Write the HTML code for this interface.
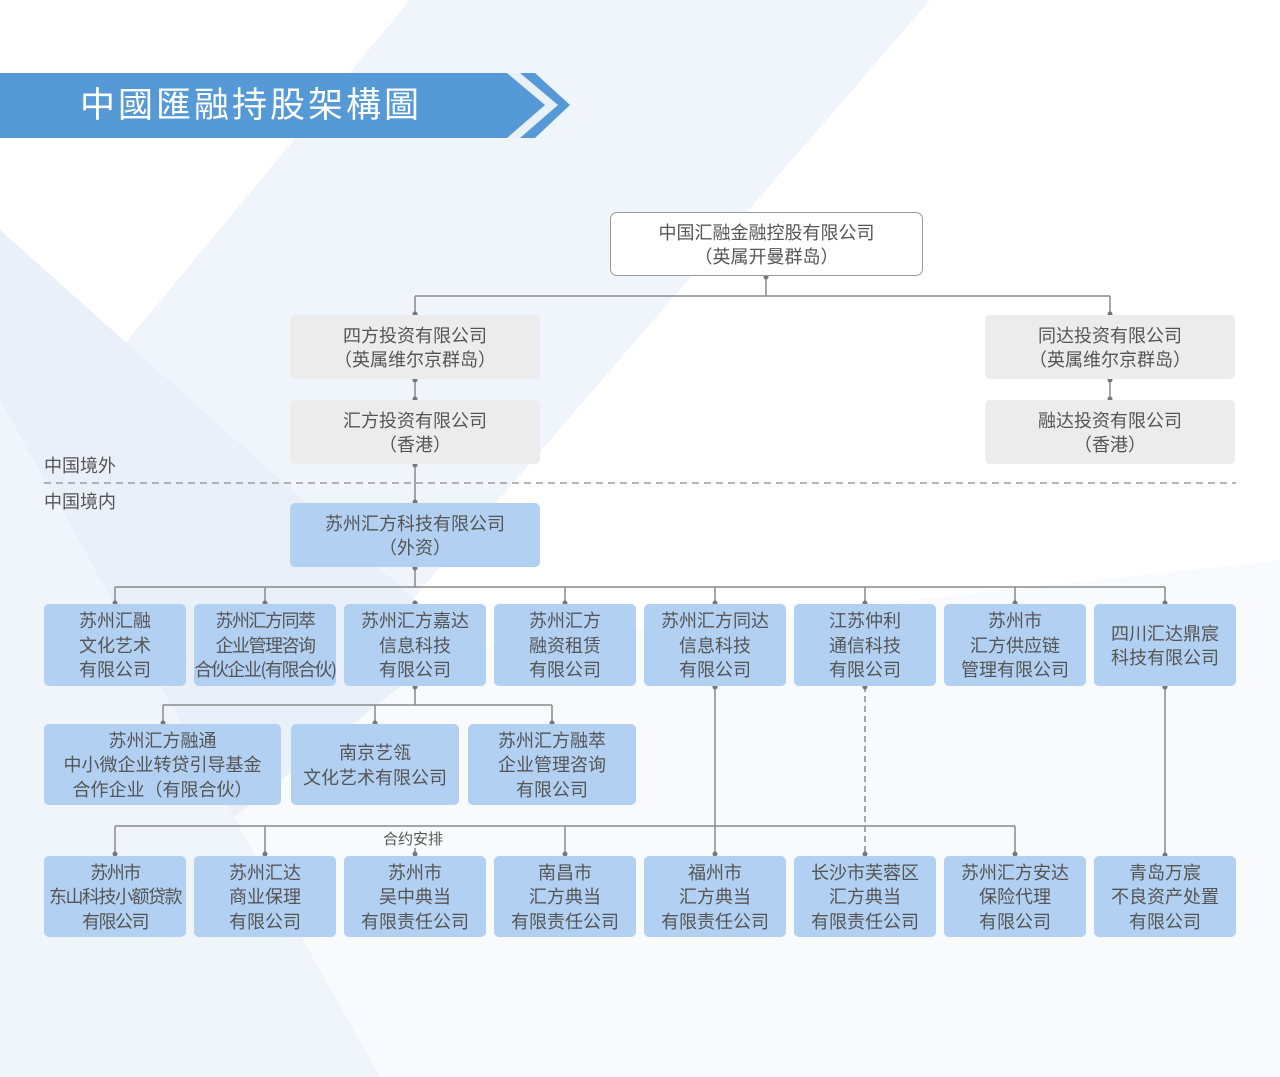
<!DOCTYPE html>
<html><head><meta charset="utf-8"><style>
html,body{margin:0;padding:0}
body{width:1280px;height:1077px;position:relative;overflow:hidden;background:#fff;font-family:"Liberation Sans","Noto Sans CJK SC",sans-serif}
svg.bg{position:absolute;left:0;top:0}
.b{position:absolute;display:flex;align-items:center;justify-content:center;text-align:center;color:#555;font-size:18px;line-height:24.5px;border-radius:5px;box-sizing:border-box;white-space:nowrap;font-family:"Noto Sans CJK SC",sans-serif}
.g{background:#ececec}
.u{background:#b2d0f1}
.lbl{position:absolute;color:#555;font-size:18px;font-family:"Noto Sans CJK SC",sans-serif;line-height:26px}
.title{position:absolute;left:80px;top:84px;color:#fff;font-size:35px;letter-spacing:3px;line-height:44px}
</style></head><body>
<svg class="bg" width="1280" height="1077">
<rect width="1280" height="1077" fill="#fff"/>
<polygon points="0,700 1280,560 1280,1077 0,1077" fill="#f8fafd"/>
<polygon points="410,0 930,0 0,1077 0,494" fill="#f0f4fb"/>
<polygon points="0,230 460,640 0,1000" fill="#e9f0fa"/>
<polygon points="0,400 380,1077 0,1077" fill="#f0f5fc"/>
<polygon points="0,73 535,73 570,105 535,138 0,138" fill="#5599d6"/>
<polygon points="507,73 520,73 558,105 520,138 507,138 545,105" fill="#e9f0fa"/>
<g stroke="#8a8a8a" stroke-width="1.5" fill="none">
<line x1="766" y1="276" x2="766" y2="296"/>
<line x1="415" y1="296" x2="1110" y2="296"/>
<line x1="415" y1="296" x2="415" y2="315"/>
<line x1="1110" y1="296" x2="1110" y2="315"/>
<line x1="415" y1="379" x2="415" y2="400"/>
<line x1="1110" y1="379" x2="1110" y2="400"/>
<line x1="415" y1="464" x2="415" y2="503"/>
<line x1="415" y1="567" x2="415" y2="587"/>
<line x1="115" y1="587" x2="1165" y2="587"/>
<line x1="115" y1="587" x2="115" y2="604"/><line x1="265" y1="587" x2="265" y2="604"/><line x1="565" y1="587" x2="565" y2="604"/><line x1="715" y1="587" x2="715" y2="604"/><line x1="865" y1="587" x2="865" y2="604"/><line x1="1015" y1="587" x2="1015" y2="604"/><line x1="1165" y1="587" x2="1165" y2="604"/>
<line x1="415" y1="686" x2="415" y2="705"/>
<line x1="163" y1="705" x2="552" y2="705"/>
<line x1="163" y1="705" x2="163" y2="724"/><line x1="375" y1="705" x2="375" y2="724"/><line x1="552" y1="705" x2="552" y2="724"/>
<line x1="115" y1="826" x2="1015" y2="826"/>
<line x1="115" y1="826" x2="115" y2="856"/><line x1="265" y1="826" x2="265" y2="856"/><line x1="415" y1="848" x2="415" y2="856"/><line x1="565" y1="826" x2="565" y2="856"/><line x1="1015" y1="826" x2="1015" y2="856"/>
<line x1="715" y1="686" x2="715" y2="856"/>
<line x1="1165" y1="686" x2="1165" y2="856"/>
<line x1="865" y1="686" x2="865" y2="856" stroke-dasharray="6,4"/>
<line x1="44" y1="483" x2="1236" y2="483" stroke-dasharray="7,5" stroke-width="1.2"/>
</g>
<g fill="#777">
<circle cx="766" cy="277" r="2.5"/><circle cx="415" cy="314" r="2.5"/><circle cx="1110" cy="314" r="2.5"/>
<circle cx="415" cy="380" r="2.5"/><circle cx="415" cy="399" r="2.5"/><circle cx="1110" cy="380" r="2.5"/><circle cx="1110" cy="399" r="2.5"/>
<circle cx="415" cy="465" r="2.5"/><circle cx="415" cy="502" r="2.5"/><circle cx="415" cy="568" r="2.5"/>
<circle cx="115" cy="603" r="2.5"/><circle cx="265" cy="603" r="2.5"/><circle cx="415" cy="603" r="2.5"/><circle cx="565" cy="603" r="2.5"/><circle cx="715" cy="603" r="2.5"/><circle cx="865" cy="603" r="2.5"/><circle cx="1015" cy="603" r="2.5"/><circle cx="1165" cy="603" r="2.5"/>
<circle cx="415" cy="687" r="2.5"/><circle cx="715" cy="687" r="2.5"/><circle cx="865" cy="687" r="2.5"/><circle cx="1165" cy="687" r="2.5"/>
<circle cx="163" cy="723" r="2.5"/><circle cx="375" cy="723" r="2.5"/><circle cx="552" cy="723" r="2.5"/>
<circle cx="115" cy="854" r="2.5"/><circle cx="265" cy="854" r="2.5"/><circle cx="415" cy="854" r="2.5"/><circle cx="565" cy="854" r="2.5"/><circle cx="715" cy="854" r="2.5"/><circle cx="865" cy="854" r="2.5"/><circle cx="1015" cy="854" r="2.5"/><circle cx="1165" cy="855" r="2.5"/>
</g>
</svg>
<div class="title">中國匯融持股架構圖</div>
<div class="b" style="left:610px;top:212px;width:313px;height:64px;background:#fff;border:1px solid #999;border-radius:7px">中国汇融金融控股有限公司<br>（英属开曼群岛）</div>
<div class="b g" style="left:290px;top:315px;width:250px;height:64px">四方投资有限公司<br>（英属维尔京群岛）</div>
<div class="b g" style="left:290px;top:400px;width:250px;height:64px">汇方投资有限公司<br>（香港）</div>
<div class="b g" style="left:985px;top:315px;width:250px;height:64px">同达投资有限公司<br>（英属维尔京群岛）</div>
<div class="b g" style="left:985px;top:400px;width:250px;height:64px">融达投资有限公司<br>（香港）</div>
<div class="lbl" style="left:44px;top:452px">中国境外</div>
<div class="lbl" style="left:44px;top:488px">中国境内</div>
<div class="b u" style="left:290px;top:503px;width:250px;height:64px">苏州汇方科技有限公司<br>（外资）</div>

<div class="b u" style="left:44px;top:604px;width:142px;height:82px">苏州汇融<br>文化艺术<br>有限公司</div>
<div class="b u" style="left:194px;top:604px;width:142px;height:82px;letter-spacing:-1.5px">苏州汇方同萃<br>企业管理咨询<br>合伙企业(有限合伙)</div>
<div class="b u" style="left:344px;top:604px;width:142px;height:82px">苏州汇方嘉达<br>信息科技<br>有限公司</div>
<div class="b u" style="left:494px;top:604px;width:142px;height:82px">苏州汇方<br>融资租赁<br>有限公司</div>
<div class="b u" style="left:644px;top:604px;width:142px;height:82px">苏州汇方同达<br>信息科技<br>有限公司</div>
<div class="b u" style="left:794px;top:604px;width:142px;height:82px">江苏仲利<br>通信科技<br>有限公司</div>
<div class="b u" style="left:944px;top:604px;width:142px;height:82px">苏州市<br>汇方供应链<br>管理有限公司</div>
<div class="b u" style="left:1094px;top:604px;width:142px;height:82px">四川汇达鼎宸<br>科技有限公司</div>

<div class="b u" style="left:44px;top:724px;width:237px;height:81px">苏州汇方融通<br>中小微企业转贷引导基金<br>合作企业（有限合伙）</div>
<div class="b u" style="left:291px;top:724px;width:168px;height:81px">南京艺瓴<br>文化艺术有限公司</div>
<div class="b u" style="left:468px;top:724px;width:168px;height:81px">苏州汇方融萃<br>企业管理咨询<br>有限公司</div>

<div class="lbl" style="left:383px;top:826px;font-size:15px">合约安排</div>

<div class="b u" style="left:44px;top:856px;width:142px;height:81px;letter-spacing:-1.5px">苏州市<br>东山科技小额贷款<br>有限公司</div>
<div class="b u" style="left:194px;top:856px;width:142px;height:81px">苏州汇达<br>商业保理<br>有限公司</div>
<div class="b u" style="left:344px;top:856px;width:142px;height:81px">苏州市<br>吴中典当<br>有限责任公司</div>
<div class="b u" style="left:494px;top:856px;width:142px;height:81px">南昌市<br>汇方典当<br>有限责任公司</div>
<div class="b u" style="left:644px;top:856px;width:142px;height:81px">福州市<br>汇方典当<br>有限责任公司</div>
<div class="b u" style="left:794px;top:856px;width:142px;height:81px">长沙市芙蓉区<br>汇方典当<br>有限责任公司</div>
<div class="b u" style="left:944px;top:856px;width:142px;height:81px">苏州汇方安达<br>保险代理<br>有限公司</div>
<div class="b u" style="left:1094px;top:856px;width:142px;height:81px">青岛万宸<br>不良资产处置<br>有限公司</div>
</body></html>
